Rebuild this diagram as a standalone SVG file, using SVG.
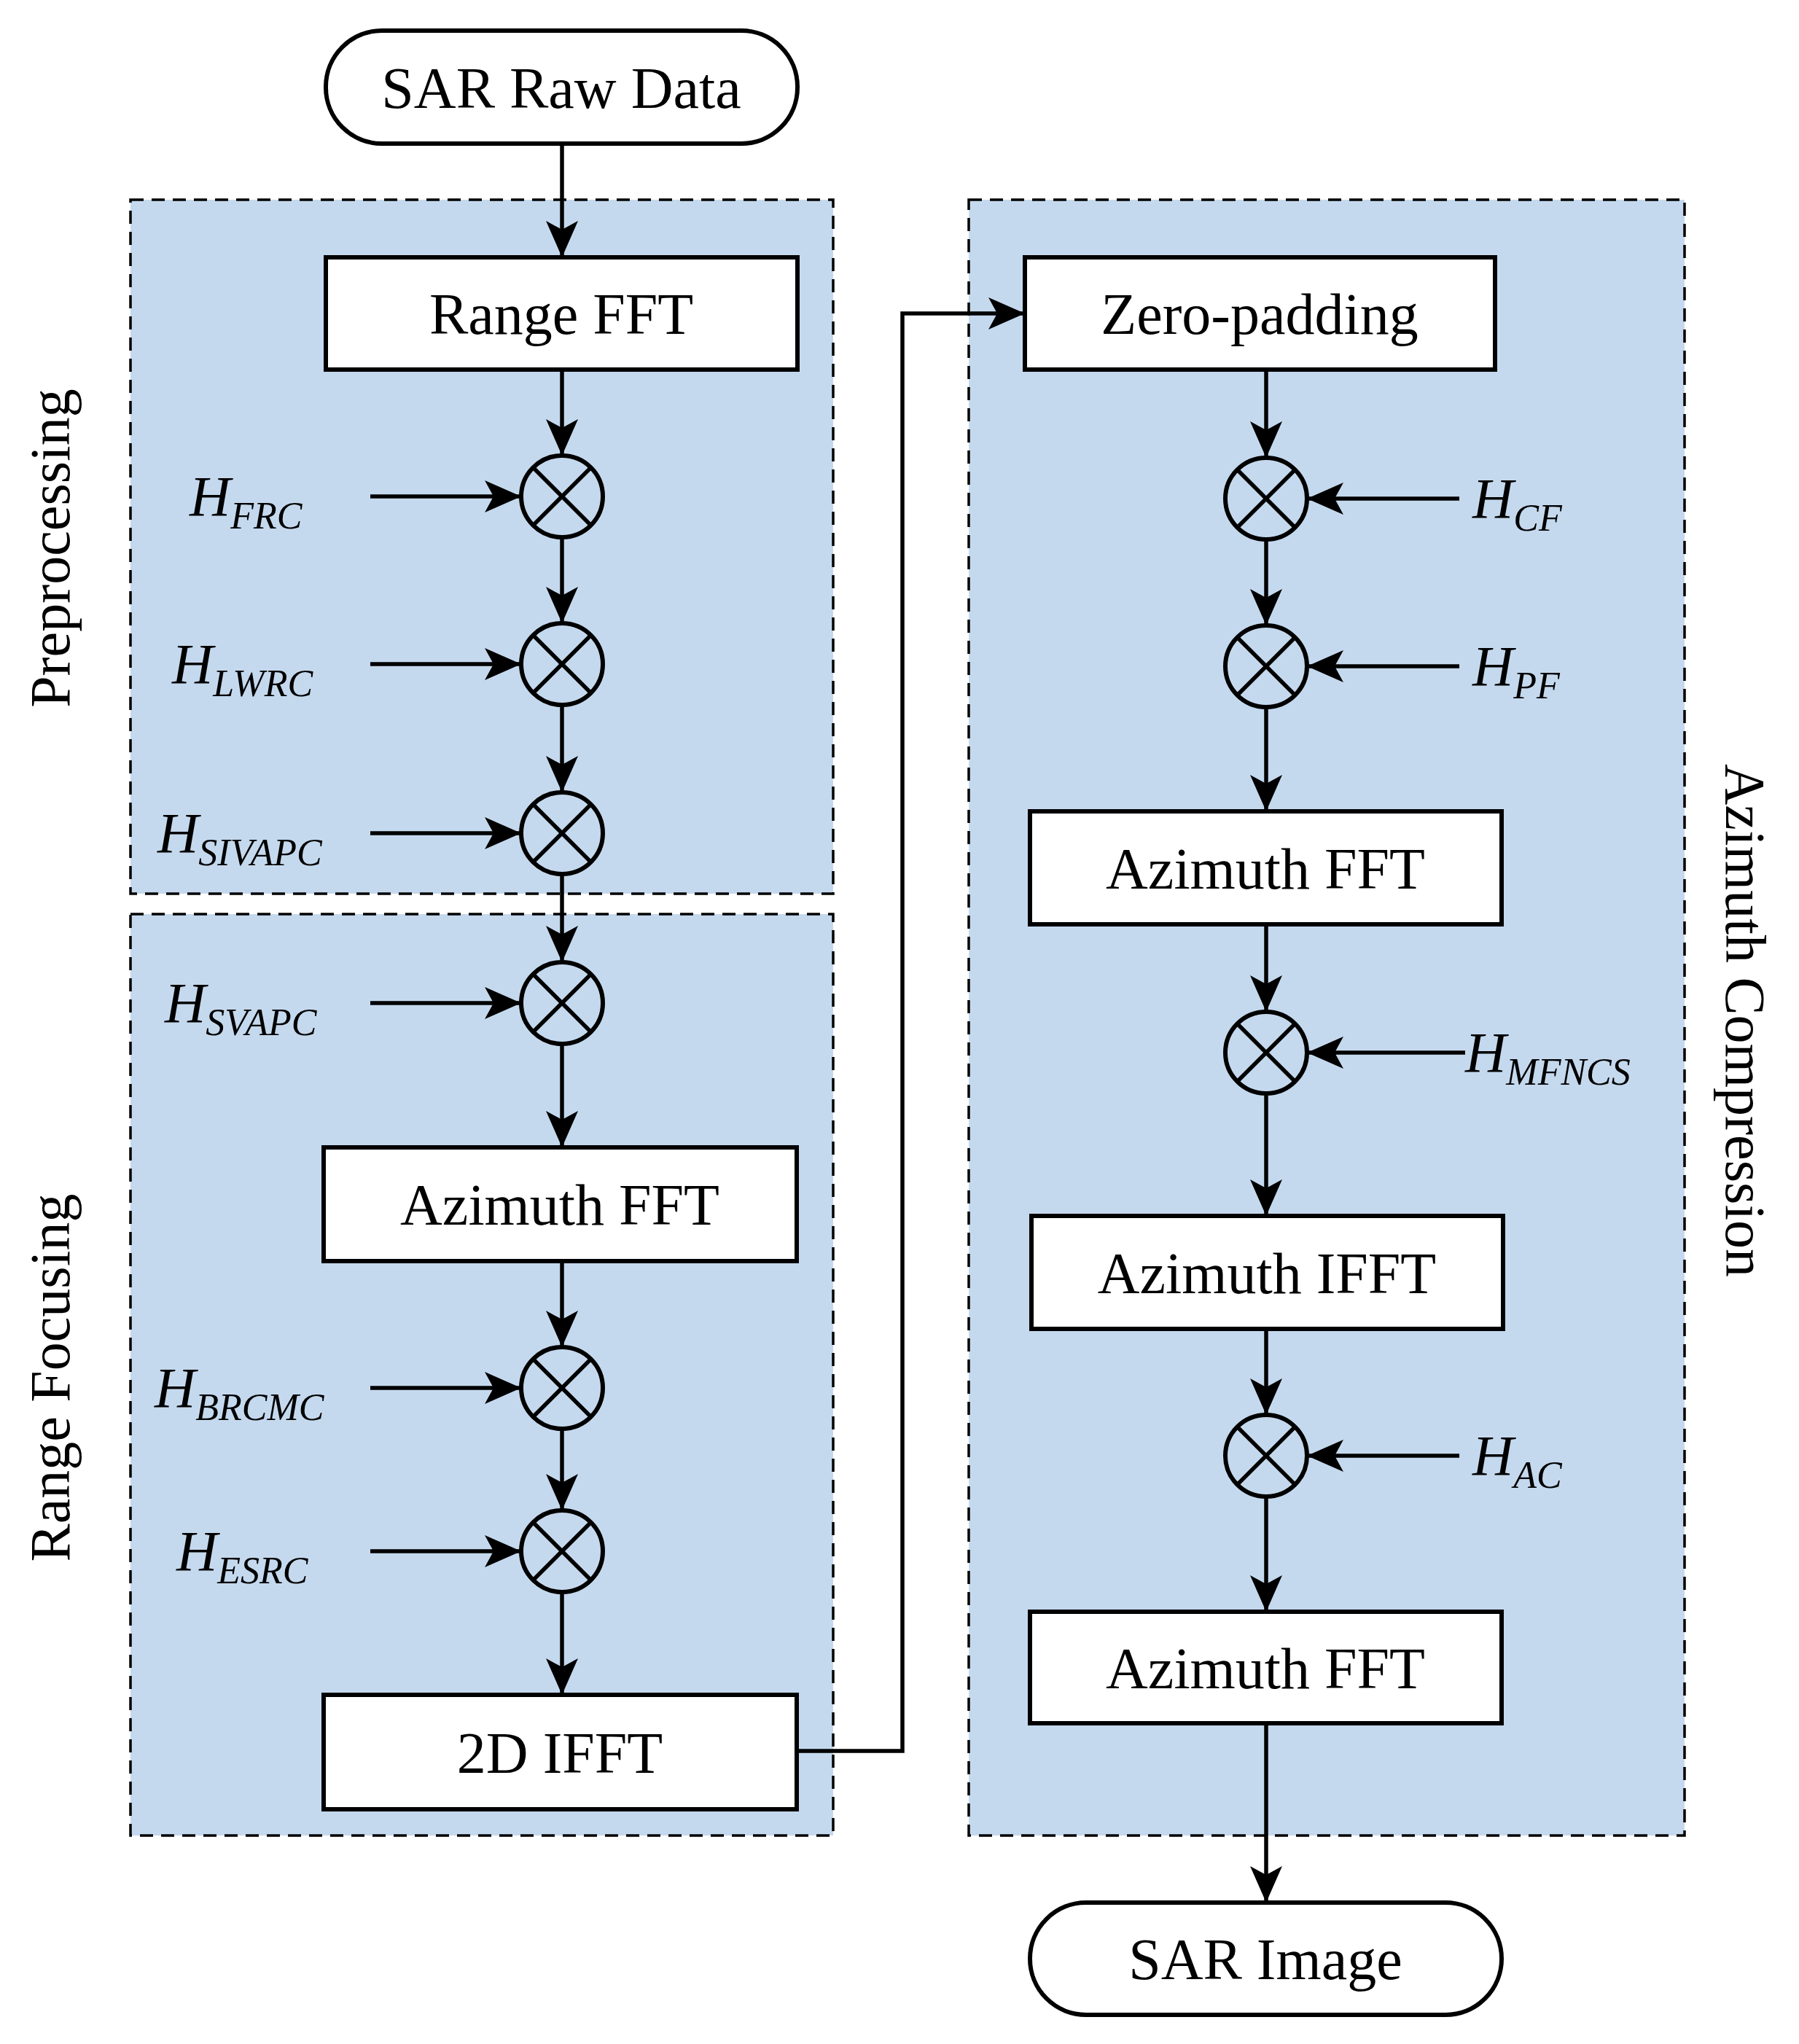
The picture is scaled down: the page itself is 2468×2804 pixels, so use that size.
<svg xmlns="http://www.w3.org/2000/svg" width="2468" height="2804" viewBox="0 0 2468 2804">
<style>
.reg{fill:#c5d9ee;stroke:#000;stroke-width:3.5;stroke-dasharray:18 11}
.box{fill:#fff;stroke:#000;stroke-width:6}
.t{font-family:"Liberation Serif",serif;font-size:80px;text-anchor:middle;fill:#000}
.h{font-family:"Liberation Serif",serif;font-style:italic;font-size:78px;fill:#000}
.s{font-size:52px}
.side{font-family:"Liberation Serif",serif;font-size:78px;text-anchor:middle;fill:#000}
.c{fill:none;stroke:#000;stroke-width:6}
.ln{fill:none;stroke:#000;stroke-width:5.5;marker-end:url(#a)}
.pl{fill:none;stroke:#000;stroke-width:5.5}
</style>
<defs>
<marker id="a" markerUnits="userSpaceOnUse" markerWidth="60" markerHeight="50" refX="50" refY="22" orient="auto" viewBox="0 0 60 50"><path d="M0,0 L50,22 L0,44 L12,22 Z" fill="#000"/></marker>
</defs>
<rect width="2468" height="2804" fill="#fff"/>
<g id="preprocessing"><rect class="reg" x="179" y="274" width="964" height="952"/><text class="side" transform="translate(95,752) rotate(-90)">Preprocessing</text></g>
<g id="rangefocusing"><rect class="reg" x="179" y="1254" width="964" height="1264"/><text class="side" transform="translate(95,1890) rotate(-90)">Range Focusing</text></g>
<g id="azimuthcompression"><rect class="reg" x="1329" y="274" width="982" height="2244"/><text class="side" transform="translate(2368,1400) rotate(90)">Azimuth Compression</text></g>
<g id="connectors">
<line class="ln" x1="771" y1="197" x2="771" y2="353"/>
<line class="ln" x1="771" y1="507" x2="771" y2="625"/>
<line class="ln" x1="771" y1="737" x2="771" y2="855"/>
<line class="ln" x1="771" y1="967" x2="771" y2="1087"/>
<line class="ln" x1="771" y1="1199" x2="771" y2="1320"/>
<line class="ln" x1="771" y1="1432" x2="771" y2="1574"/>
<line class="ln" x1="771" y1="1730" x2="771" y2="1848"/>
<line class="ln" x1="771" y1="1960" x2="771" y2="2072"/>
<line class="ln" x1="771" y1="2184" x2="771" y2="2325"/>
<line class="ln" x1="508" y1="681" x2="715" y2="681"/>
<line class="ln" x1="508" y1="911" x2="715" y2="911"/>
<line class="ln" x1="508" y1="1143" x2="715" y2="1143"/>
<line class="ln" x1="508" y1="1376" x2="715" y2="1376"/>
<line class="ln" x1="508" y1="1904" x2="715" y2="1904"/>
<line class="ln" x1="508" y1="2128" x2="715" y2="2128"/>
<polyline class="ln" points="1093,2402 1238,2402 1238,430 1406,430"/>
<line class="ln" x1="1737" y1="507" x2="1737" y2="628"/>
<line class="ln" x1="1737" y1="740" x2="1737" y2="858"/>
<line class="ln" x1="1737" y1="970" x2="1737" y2="1113"/>
<line class="ln" x1="1737" y1="1268" x2="1737" y2="1388"/>
<line class="ln" x1="1737" y1="1500" x2="1737" y2="1668"/>
<line class="ln" x1="1737" y1="1823" x2="1737" y2="1941"/>
<line class="ln" x1="1737" y1="2053" x2="1737" y2="2211"/>
<line class="ln" x1="1737" y1="2364" x2="1737" y2="2610"/>
<line class="ln" x1="2002" y1="684" x2="1793" y2="684"/>
<line class="ln" x1="2002" y1="914" x2="1793" y2="914"/>
<line class="ln" x1="2010" y1="1444" x2="1793" y2="1444"/>
<line class="ln" x1="2002" y1="1997" x2="1793" y2="1997"/>
</g>
<g id="raw"><rect class="box" x="447" y="42" width="647" height="155" rx="77"/><text class="t" x="770" y="148">SAR Raw Data</text></g>
<g id="rangefft"><rect class="box" x="447" y="353" width="647" height="154"/><text class="t" x="770" y="458">Range FFT</text></g>
<g id="m1"><circle class="c" cx="771" cy="681" r="56"/><path class="pl" d="M731,641 L811,721 M811,641 L731,721"/><text class="h" x="260" y="707">H<tspan class="s" dy="18">FRC</tspan></text></g>
<g id="m2"><circle class="c" cx="771" cy="911" r="56"/><path class="pl" d="M731,871 L811,951 M811,871 L731,951"/><text class="h" x="236" y="937">H<tspan class="s" dy="18">LWRC</tspan></text></g>
<g id="m3"><circle class="c" cx="771" cy="1143" r="56"/><path class="pl" d="M731,1103 L811,1183 M811,1103 L731,1183"/><text class="h" x="216" y="1169">H<tspan class="s" dy="18">SIVAPC</tspan></text></g>
<g id="m4"><circle class="c" cx="771" cy="1376" r="56"/><path class="pl" d="M731,1336 L811,1416 M811,1336 L731,1416"/><text class="h" x="226" y="1402">H<tspan class="s" dy="18">SVAPC</tspan></text></g>
<g id="azfft1"><rect class="box" x="444" y="1574" width="649" height="156"/><text class="t" x="768" y="1680">Azimuth FFT</text></g>
<g id="m5"><circle class="c" cx="771" cy="1904" r="56"/><path class="pl" d="M731,1864 L811,1944 M811,1864 L731,1944"/><text class="h" x="212" y="1930">H<tspan class="s" dy="18">BRCMC</tspan></text></g>
<g id="m6"><circle class="c" cx="771" cy="2128" r="56"/><path class="pl" d="M731,2088 L811,2168 M811,2088 L731,2168"/><text class="h" x="242" y="2154">H<tspan class="s" dy="18">ESRC</tspan></text></g>
<g id="ifft2d"><rect class="box" x="444" y="2325" width="649" height="157"/><text class="t" x="768" y="2432">2D IFFT</text></g>
<g id="zeropad"><rect class="box" x="1406" y="353" width="645" height="154"/><text class="t" x="1728" y="458">Zero-padding</text></g>
<g id="m7"><circle class="c" cx="1737" cy="684" r="56"/><path class="pl" d="M1697,644 L1777,724 M1777,644 L1697,724"/><text class="h" x="2020" y="710">H<tspan class="s" dy="18">CF</tspan></text></g>
<g id="m8"><circle class="c" cx="1737" cy="914" r="56"/><path class="pl" d="M1697,874 L1777,954 M1777,874 L1697,954"/><text class="h" x="2020" y="940">H<tspan class="s" dy="18">PF</tspan></text></g>
<g id="azfft2"><rect class="box" x="1413" y="1113" width="647" height="155"/><text class="t" x="1736" y="1219">Azimuth FFT</text></g>
<g id="m9"><circle class="c" cx="1737" cy="1444" r="56"/><path class="pl" d="M1697,1404 L1777,1484 M1777,1404 L1697,1484"/><text class="h" x="2010" y="1470">H<tspan class="s" dy="18">MFNCS</tspan></text></g>
<g id="azifft"><rect class="box" x="1415" y="1668" width="647" height="155"/><text class="t" x="1738" y="1774">Azimuth IFFT</text></g>
<g id="m10"><circle class="c" cx="1737" cy="1997" r="56"/><path class="pl" d="M1697,1957 L1777,2037 M1777,1957 L1697,2037"/><text class="h" x="2020" y="2023">H<tspan class="s" dy="18">AC</tspan></text></g>
<g id="azfft3"><rect class="box" x="1413" y="2211" width="647" height="153"/><text class="t" x="1736" y="2316">Azimuth FFT</text></g>
<g id="image"><rect class="box" x="1413" y="2610" width="647" height="154" rx="77"/><text class="t" x="1736" y="2715">SAR Image</text></g>
</svg>
